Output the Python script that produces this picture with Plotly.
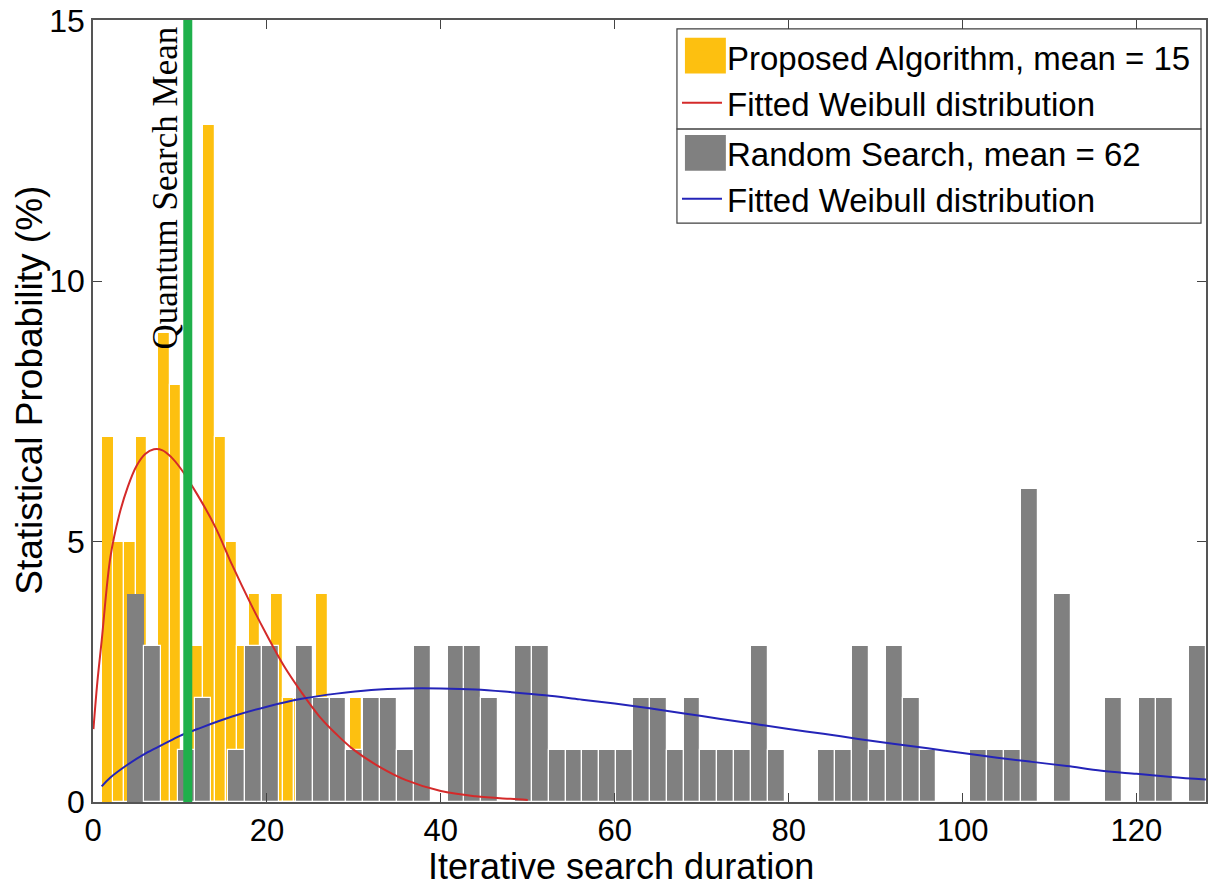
import plotly.graph_objects as go

# ---------------- data ----------------
# Proposed algorithm histogram (% of runs), 32 bins starting at ~1.0, width ~1.3
prop_x0 = 1.65
prop_dx = 1.3
prop_vals = [7, 5, 5, 7, 3, 9, 8, 1, 3, 13, 7, 5, 3, 4, 2, 4, 2, 2, 0, 4,
             1, 1, 2, 1, 0, 0, 0, 0, 0, 0, 0, 1]

# Random search histogram (% of runs), 64 bins starting at ~3.93, width ~1.94
rand_x0 = 4.9
rand_dx = 1.939
rand_vals = [4, 3, 0, 1, 2, 0, 1, 3, 3, 0,
             3, 2, 2, 1, 2, 2, 1, 3, 0, 3,
             3, 2, 0, 3, 3, 1, 1, 1, 1, 1,
             2, 2, 1, 2, 1, 1, 1, 3, 1, 0,
             0, 1, 1, 3, 1, 3, 2, 1, 0, 0,
             1, 1, 1, 6, 0, 4, 0, 0, 2, 0,
             2, 2, 0, 3]

# Fitted Weibull curves
red_x = [0.05, 0.5, 1, 2, 3, 4, 5, 6, 7, 8, 9, 10, 12, 14, 16, 18, 20, 22,
         24, 26, 28, 30, 33, 36, 40, 44, 48, 50]
red_y = [1.4, 2.3, 3.1, 4.7, 5.5, 6.05, 6.45, 6.68, 6.77, 6.75, 6.62, 6.42,
         5.9, 5.3, 4.55, 3.85, 3.2, 2.6, 2.1, 1.65, 1.3, 1.0, 0.67, 0.42,
         0.21, 0.11, 0.06, 0.04]

blue_x = [1, 2, 4, 6, 8, 10, 12, 16, 20, 24, 28, 32, 36, 40, 44, 48, 52, 56,
          60, 64, 68, 72, 76, 80, 84, 88, 92, 96, 100, 104, 108, 112, 116,
          120, 124, 128]
blue_y = [0.3, 0.47, 0.72, 0.93, 1.1, 1.27, 1.4, 1.64, 1.83, 1.98, 2.08,
          2.15, 2.18, 2.18, 2.16, 2.11, 2.05, 1.97, 1.89, 1.8, 1.7, 1.6,
          1.5, 1.4, 1.31, 1.21, 1.12, 1.03, 0.94, 0.85, 0.77, 0.69, 0.6,
          0.54, 0.48, 0.43]

quantum_mean = 10.9
x_ticks = [0, 20, 40, 60, 80, 100, 120]
y_ticks = [0, 5, 10, 15]

name_prop = "Proposed Algorithm, mean = 15"
name_rand = "Random Search, mean = 62"
name_fit = "Fitted Weibull distribution"
x_title = "Iterative search duration"
y_title = "Statistical Probability (%)"
marker_text = "Quantum Search Mean"

# ---------------- figure ----------------
ORANGE = "#FDC010"
GRAY = "#808080"
SANS = "Liberation Sans, Arial, sans-serif"


def edge_widths(n):
    # white separators between bars; the first bar's edge width (0) is what the legend swatch uses
    return [0] + [1.2] * (n - 1)


fig = go.Figure()

fig.add_trace(go.Bar(
    y=prop_vals, x0=prop_x0, dx=prop_dx, width=prop_dx,
    marker=dict(color=ORANGE, line=dict(color="white", width=edge_widths(len(prop_vals)))),
    name=name_prop, legend="legend", showlegend=True))

fig.add_trace(go.Scatter(
    x=red_x, y=red_y, mode="lines", line=dict(color="#D42A2A", width=2, shape="spline"),
    name=name_fit, legend="legend"))

fig.add_trace(go.Bar(
    y=rand_vals, x0=rand_x0, dx=rand_dx, width=rand_dx,
    marker=dict(color=GRAY, line=dict(color="white", width=edge_widths(len(rand_vals)))),
    name=name_rand, legend="legend2"))

fig.add_trace(go.Scatter(
    x=blue_x, y=blue_y, mode="lines", line=dict(color="#2424B8", width=2, shape="spline"),
    name=name_fit, legend="legend2"))

fig.add_trace(go.Scatter(
    x=[quantum_mean, quantum_mean], y=[0, 15.05], mode="lines",
    line=dict(color="#1FB04B", width=9), showlegend=False, hoverinfo="skip"))

fig.add_annotation(
    x=8.3, y=11.78, xref="x", yref="y", text=marker_text,
    textangle=-90, showarrow=False, xanchor="center", yanchor="middle",
    font=dict(family="Liberation Serif, Times New Roman, serif", size=35, color="black"))

# axis titles placed where the reference shows them
fig.add_annotation(
    x=0.4744, y=-0.082, xref="paper", yref="paper", text=x_title,
    showarrow=False, xanchor="center", yanchor="middle",
    font=dict(family=SANS, size=36, color="black"))
fig.add_annotation(
    x=-0.0565, y=0.526, xref="paper", yref="paper", text=y_title,
    textangle=-90, showarrow=False, xanchor="center", yanchor="middle",
    font=dict(family=SANS, size=37, color="black"))


# legend frames (two stacked boxes of equal width, as in the reference) and big colour patches
def px_x(p):
    return (p - 93) / 1115.0


def px_y(p):
    return (802 - p) / 789.0


frame = dict(type="rect", xref="paper", yref="paper", line=dict(color="#404040", width=1.2),
             fillcolor="rgba(0,0,0,0)", layer="above")
fig.add_shape(x0=px_x(678), x1=px_x(1203), y0=px_y(123), y1=px_y(22), **frame)
fig.add_shape(x0=px_x(678), x1=px_x(1203), y0=px_y(218), y1=px_y(123), **frame)
patch = dict(type="rect", xref="paper", yref="paper", line=dict(width=0), layer="above")
fig.add_shape(x0=px_x(686), x1=px_x(727), y0=px_y(67), y1=px_y(31), fillcolor=ORANGE, **patch)
fig.add_shape(x0=px_x(686), x1=px_x(727), y0=px_y(165), y1=px_y(129), fillcolor=GRAY, **patch)

legend_common = dict(
    xanchor="left", yanchor="top", bgcolor="rgba(0,0,0,0)",
    borderwidth=0,
    font=dict(family=SANS, size=33, color="black"),
    itemwidth=40, tracegroupgap=0)

fig.update_layout(
    width=1211, height=888,
    margin=dict(l=93, r=3, t=13, b=86),
    paper_bgcolor="white", plot_bgcolor="white",
    barmode="overlay", bargap=0,
    showlegend=True,
    legend=dict(x=0.5247, y=0.9886, **legend_common),
    legend2=dict(x=0.5247, y=0.8657, **legend_common),
    xaxis=dict(
        range=[0, 128], tickvals=x_ticks, ticks="inside", ticklen=9,
        tickcolor="#444", showline=True, linecolor="#555", linewidth=1.5,
        mirror="ticks", showgrid=False, zeroline=False,
        tickfont=dict(family=SANS, size=31, color="black")),
    yaxis=dict(
        range=[0, 15.01], tickvals=y_ticks, ticks="inside", ticklen=9,
        tickcolor="#444", showline=True, linecolor="#555", linewidth=1.5,
        mirror="ticks", showgrid=False, zeroline=False,
        ticklabeloverflow="allow",
        tickfont=dict(family=SANS, size=32, color="black")),
)

fig.write_html("out.html", config={"displayModeBar": False})

# remove the browser's default page margin so the figure sits at the top-left corner
with open("out.html", "r", encoding="utf-8") as f:
    html = f.read()
html = html.replace("<body>", '<body style="margin:0;padding:0;">', 1)
with open("out.html", "w", encoding="utf-8") as f:
    f.write(html)
